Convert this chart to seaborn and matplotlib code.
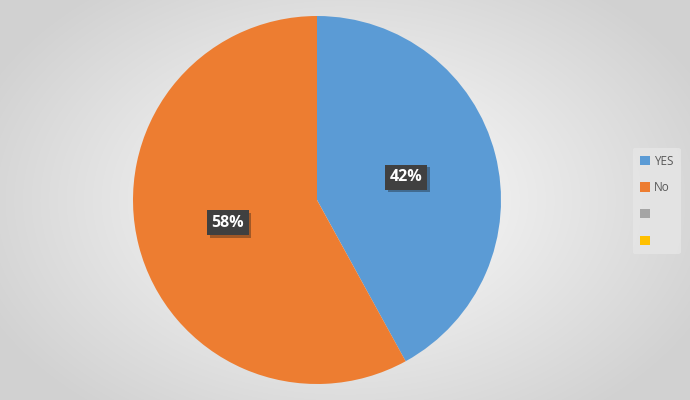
import numpy as np
import seaborn as sns
import matplotlib.pyplot as plt
from matplotlib import patheffects

sns.set_theme(style="white")
plt.rcParams['font.family'] = ['Open Sans', 'DejaVu Sans']

# dados do grafico
categorias = ["YES", "No", " ", " "]
valores = [42, 58, 0, 0]
cores = ["#5B9BD5", "#ED7D31", "#A5A5A5", "#FFC000"]

fig = plt.figure(figsize=(6.9, 4), dpi=100)

# fundo com gradiente radial
bg = fig.add_axes([0, 0, 1, 1])
yy, xx = np.mgrid[0:400, 0:690]
d = np.sqrt(((xx - 345) / 400.0) ** 2 + ((yy - 200) / 270.0) ** 2)
d = np.clip(d, 0, 1)
g = 1.0 - 0.18 * d
bg.imshow(np.dstack([g, g, g]), aspect="auto", extent=[0, 1, 0, 1])
bg.axis("off")

ax = fig.add_axes([133 / 690, 16 / 400, 368 / 690, 368 / 400])
fatias, _ = ax.pie(valores, colors=cores, startangle=90, counterclock=False,
                   radius=1.0, wedgeprops=dict(edgecolor="none", linewidth=0))
ax.set_xlim(-1, 1)
ax.set_ylim(-1, 1)
ax.axis("off")

# rotulos de porcentagem
total = sum(valores)
inicio = 90
for v in valores:
    if v == 0:
        continue
    meio = np.deg2rad(inicio - 360 * v / total / 2)
    inicio -= 360 * v / total
    x, y = 0.5 * np.cos(meio), 0.5 * np.sin(meio)
    t = ax.text(x, y, f"{v}%", ha="center", va="center", color="white",
                fontsize=11.5, fontweight="bold",
                bbox=dict(boxstyle="square,pad=0.28", fc="#404040", ec="none"))
    t.get_bbox_patch().set_path_effects([
        patheffects.SimplePatchShadow(offset=(2, -2), alpha=0.35),
        patheffects.Normal()])

leg = fig.legend(fatias, categorias, loc="center left",
                 bbox_to_anchor=(633 / 690, 199 / 400), frameon=True,
                 fontsize=8.5, handlelength=0.85, handleheight=0.85,
                 labelspacing=1.15, borderpad=0.6, handletextpad=0.35,
                 borderaxespad=0, labelcolor="#595959")
leg.get_frame().set_facecolor("#e6e6e6")
leg.get_frame().set_edgecolor("none")
leg.get_frame().set_alpha(0.8)

fig.savefig("out.png", dpi=100)
